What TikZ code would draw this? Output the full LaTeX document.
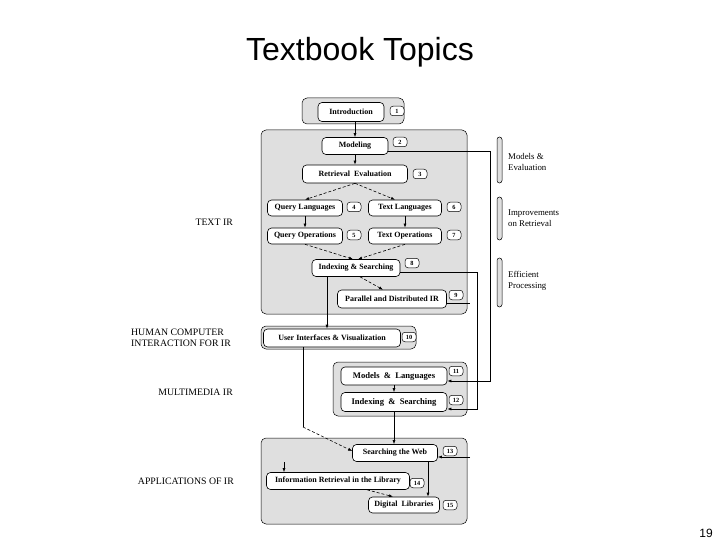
\documentclass[tikz,border=0pt]{standalone}
\usepackage{fontspec}
\setmainfont{Liberation Serif}
\newfontfamily\titlefont{Liberation Sans}
\usetikzlibrary{arrows.meta}
\tikzset{
  grp/.style={draw=black, line width=0.5pt, fill=gray!25, rounded corners=5pt},
  box/.style={draw=black, line width=0.6pt, fill=white, rounded corners=4pt, inner sep=0pt,
    font=\fontsize{8}{9.5}\selectfont\bfseries},
  bigbox/.style={box, font=\fontsize{8.6}{10}\selectfont\bfseries},
  tag/.style={draw=black, line width=0.5pt, fill=white, rounded corners=3pt, inner sep=0pt,
    minimum width=14pt, minimum height=9.5pt, font=\fontsize{6.3}{7}\selectfont\bfseries},
  bar/.style={draw=black, line width=0.5pt, fill=gray!25, rounded corners=2.5pt},
  side/.style={font=\fontsize{8.8}{10.5}\selectfont, align=left, anchor=west, inner sep=0pt},
  part/.style={font=\fontsize{9.8}{10.5}\selectfont, align=right, anchor=east, inner sep=0pt},
  arr/.style={line width=0.6pt, -{Latex[length=4pt,width=3pt]}},
  dasharr/.style={line width=0.6pt, dashed, dash pattern=on 3pt off 2pt, -{Latex[length=4pt,width=3pt]}},
  ln/.style={line width=0.6pt}
}
\begin{document}
\begin{tikzpicture}[x=1pt,y=-1pt]
\useasboundingbox (0,0) rectangle (720,540);
\fill[white] (0,0) rectangle (720,540);

% title and page number
\node[anchor=base, inner sep=0pt, font=\titlefont\fontsize{32}{38}\selectfont] (title) at (360,61) {Textbook Topics};
\node[anchor=base east, inner sep=0pt, font=\titlefont\fontsize{12}{14}\selectfont] (pagenum) at (713,537) {19};

% group backgrounds
\draw[grp] (302,98) rectangle (404,124);
\draw[grp] (261,130) rectangle (467,314);
\draw[grp] (261,326) rectangle (416,349);
\draw[grp] (333,362) rectangle (467,416);
\draw[grp] (261,438) rectangle (467,524);

% side bars
\draw[bar] (497,137) rectangle (502,183);
\draw[bar] (497,197) rectangle (502,240);
\draw[bar] (497,258) rectangle (502,307);

% side labels
\node[side] (lme) at (508,162) {Models \&\\Evaluation};
\node[side] (lir) at (508,218) {Improvements\\on Retrieval};
\node[side] (lep) at (508,281) {Efficient\\Processing};

% part labels
\node[part] (ptext) at (233,222) {TEXT IR};
\node[part, align=left] (phci) at (231,338) {HUMAN COMPUTER\\INTERACTION FOR IR};
\node[part] (pmm) at (233,392) {MULTIMEDIA IR};
\node[part] (papp) at (234,481) {APPLICATIONS OF IR};

% chapter boxes
\node[box, minimum width=66pt, minimum height=19pt] (intro) at (351,112) {Introduction};
\node[box, minimum width=66pt, minimum height=17pt] (model) at (355,146) {Modeling};
\node[box, minimum width=105pt, minimum height=18pt] (reteval) at (355,174) {Retrieval\ \ Evaluation};
\node[box, minimum width=75pt, minimum height=16pt] (qlang) at (305,208) {Query Languages};
\node[box, minimum width=73pt, minimum height=16pt] (tlang) at (405,208) {Text Languages};
\node[box, minimum width=75pt, minimum height=16pt] (qops) at (305,236) {Query Operations};
\node[box, minimum width=73pt, minimum height=16pt] (tops) at (405,236) {Text Operations};
\node[box, minimum width=88pt, minimum height=17pt] (idx) at (356,268) {Indexing \& Searching};
\node[box, minimum width=109pt, minimum height=18pt] (par) at (392,299) {Parallel and Distributed IR};
\node[box, minimum width=137pt, minimum height=18pt] (ui) at (332,338) {User Interfaces \& Visualization};
\node[bigbox, minimum width=106pt, minimum height=18pt] (ml) at (394,376) {Models\ \ \&\ \ Languages};
\node[bigbox, minimum width=106pt, minimum height=19pt] (idx2) at (394,402) {Indexing\ \ \&\ \ Searching};
\node[box, minimum width=85pt, minimum height=17pt] (web) at (395,453) {Searching the Web};
\node[box, minimum width=143pt, minimum height=17pt] (lib) at (338,481) {Information Retrieval in the Library};
\node[box, minimum width=71pt, minimum height=16pt] (dl) at (404,505) {Digital\ \ Libraries};

% chapter numbers
\node[tag] (t1) at (397,111) {1};
\node[tag] (t2) at (400,142) {2};
\node[tag] (t3) at (420,174) {3};
\node[tag] (t4) at (354,207) {4};
\node[tag] (t6) at (454,207) {6};
\node[tag] (t5) at (354,235) {5};
\node[tag] (t7) at (454,235) {7};
\node[tag] (t8) at (412,263) {8};
\node[tag] (t9) at (456,295) {9};
\node[tag] (t10) at (409,337) {10};
\node[tag] (t11) at (456,371) {11};
\node[tag] (t12) at (456,400) {12};
\node[tag] (t13) at (450,451) {13};
\node[tag] (t14) at (417,483) {14};
\node[tag] (t15) at (450,505) {15};

% connectors inside text IR
\draw[arr] (model.north |- intro.south) -- (model.north);
\draw[arr] (model) -- (reteval);
\draw[dasharr] (reteval.south) -- (qlang.north);
\draw[dasharr] (reteval.south) -- ([xshift=-10pt]tlang.north);
\draw[arr] (qlang) -- (qops);
\draw[arr] (tlang) -- (tops);
\draw[dasharr] (qops.south) -- ([xshift=-3pt]idx.north);
\draw[dasharr] (tops.south) -- ([xshift=2pt]idx.north);
\draw[dasharr] ([xshift=4pt]idx.south) -- ([xshift=-9pt]par.north);

% text IR to UI
\draw[arr] ([xshift=-29pt]idx.south) -- ([xshift=-29pt]idx.south |- ui.north);

% UI to web
\coordinate (uibend) at (303,427);
\draw[ln] (ui.south -| uibend) -- (uibend);
\draw[dasharr] (uibend) -- ([yshift=2pt]web.west);

% multimedia
\draw[arr] (ml) -- (idx2);
\draw[arr] (idx2.south) -- (idx2.south |- web.north);

% applications
\draw[arr] ([xshift=33pt]web.south) -- ([xshift=33pt]web.south |- dl.north);
\draw[dasharr] ([xshift=29pt]lib.south) -- ([xshift=-11pt]dl.north);
\coordinate (tick) at (284,462);
\draw[arr] (tick) -- ([xshift=-54pt]lib.north);

% right-hand routes
\draw[arr] ([yshift=-5pt]model.east) -| ([xshift=43pt,yshift=-5pt]ml.east) -- ([yshift=-5pt]ml.east);
\draw[arr] ([yshift=-4pt]idx.east) -| ([xshift=30pt,yshift=-7pt]idx2.east) -- ([yshift=-7pt]idx2.east);
\coordinate (pstub) at (470,303);
\draw[ln] ([yshift=-4pt]par.east) -- (pstub);
\coordinate (wstub) at (470,457);
\draw[arr] (wstub) -- ([yshift=-4pt]web.east);
\end{tikzpicture}
\end{document}
